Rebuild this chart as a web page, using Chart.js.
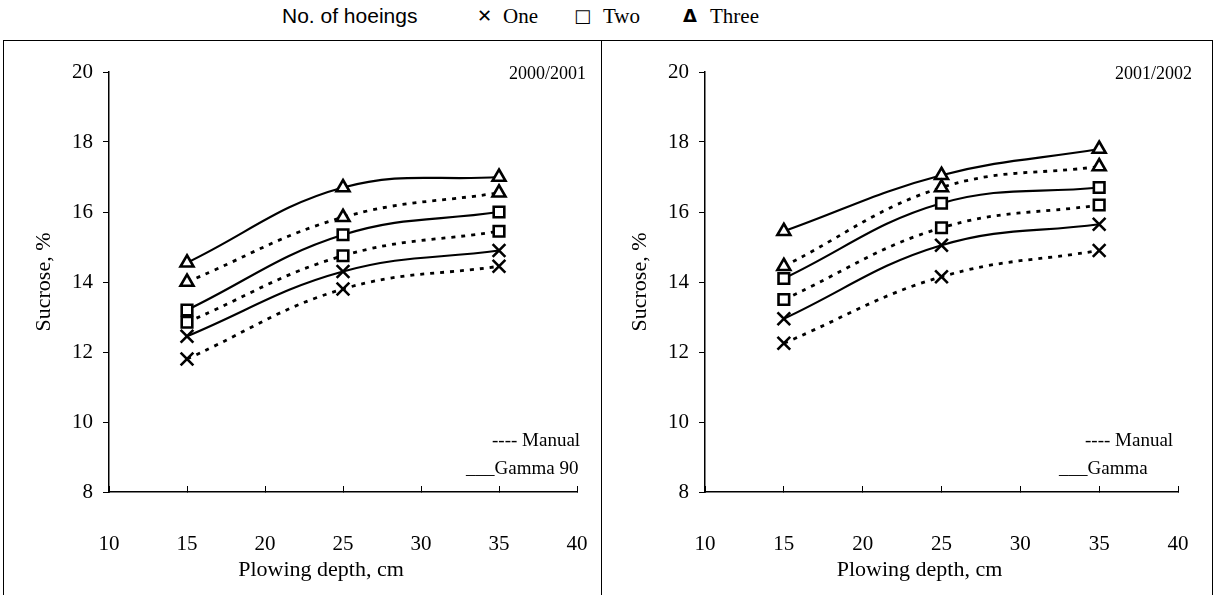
<!DOCTYPE html>
<html>
<head>
<meta charset="utf-8">
<script src="https://cdn.jsdelivr.net/npm/chart.js@4.4.1/dist/chart.umd.min.js"></script>
<style>
	body { margin: 0; width: 1215px; height: 595px; background: #fff; position: relative; overflow: hidden; font-family: 'Liberation Serif', serif; }
	.box { position: absolute; border: 1px solid #000; border-bottom: none; box-sizing: border-box; pointer-events: none; }
	#leftBox { left: 3px; top: 40px; width: 599px; height: 555px; }
	#rightBox { left: 601px; top: 40px; width: 612px; height: 555px; }
	.holder { position: absolute; top: 40px; height: 555px; }
	#leftHolder { left: 3px; width: 598px; }
	#rightHolder { left: 601px; width: 612px; }
	#legend { position: absolute; top: 2px; left: 0; width: 1215px; height: 32px; font-size: 21px; }
	#legend span { position: absolute; top: 2px; white-space: nowrap; }
	.sans { font-family: 'Liberation Sans', Arial, sans-serif; font-size: 21px; }
	.mark { font-family: 'DejaVu Sans', sans-serif; font-weight: bold; font-size: 18px; top: 3px !important; }
</style>
</head>
<body>
<div id="legend">
	<span class="sans" style="left:282px">No. of hoeings</span>
	<span class="mark" style="left:477px">&#x2715;</span>
	<span style="left:503px">One</span>
	<span class="mark" style="left:574px">&#x25A1;</span>
	<span style="left:603px">Two</span>
	<span class="mark" style="left:683px">&#x0394;</span>
	<span style="left:710px">Three</span>
</div>
<div class="holder" id="leftHolder"><canvas id="leftChart" width="598" height="555"></canvas></div>
<div class="holder" id="rightHolder"><canvas id="rightChart" width="612" height="555"></canvas></div>
<div class="box" id="leftBox"></div>
<div class="box" id="rightBox"></div>
<script>
// plowing depth, cm
var depths = [15, 25, 35];
var xTicks = [10, 15, 20, 25, 30, 35, 40];
var yTicks = [8, 10, 12, 14, 16, 18, 20];
var hoeings = ['One', 'Two', 'Three'];

// sucrose %, season 2000/2001
var oneManual1 = [11.8, 13.8, 14.45];
var oneGamma1 = [12.45, 14.3, 14.9];
var twoManual1 = [12.85, 14.75, 15.45];
var twoGamma1 = [13.2, 15.35, 16.0];
var threeManual1 = [14.0, 15.85, 16.55];
var threeGamma1 = [14.55, 16.7, 17.0];

// sucrose %, season 2001/2002
var oneManual2 = [12.25, 14.15, 14.9];
var oneGamma2 = [12.95, 15.05, 15.65];
var twoManual2 = [13.5, 15.55, 16.2];
var twoGamma2 = [14.1, 16.25, 16.7];
var threeManual2 = [14.45, 16.7, 17.3];
var threeGamma2 = [15.45, 17.05, 17.8];

var markers = { One: 'crossRot', Two: 'rect', Three: 'triangle' };
var serif = "'Liberation Serif', 'Times New Roman', serif";

function toPoints(values) {
	return depths.map(function(d, i) {
		return { x: d, y: values[i] };
	});
}

function makeDataset(name, values, dotted) {
	return {
		label: name + (dotted ? ' manual' : ' gamma'),
		data: toPoints(values),
		showLine: true,
		tension: 0.4,
		borderColor: '#000',
		backgroundColor: 'rgba(0,0,0,0)',
		borderWidth: dotted ? 2.8 : 2.2,
		borderDash: dotted ? [4, 6] : [],
		pointStyle: markers[name],
		pointRadius: name === 'One' ? 9 : 7.5,
		pointBorderWidth: 2.6,
		pointBorderColor: '#000',
		pointBackgroundColor: '#fff'
	};
}

// draws season name, x axis title and the line-type key
var panelText = {
	id: 'panelText',
	afterDraw: function(chart) {
		var o = chart.options.plugins.panelText;
		var area = chart.chartArea;
		var ctx = chart.ctx;
		ctx.save();
		ctx.fillStyle = '#000';
		ctx.textBaseline = 'middle';
		ctx.font = '18px ' + serif;
		ctx.textAlign = 'right';
		ctx.fillText(o.season, o.seasonX, o.seasonY);
		ctx.font = '22px ' + serif;
		ctx.textAlign = 'center';
		ctx.fillText('Plowing depth, cm', (area.left + area.right) / 2 - 22, 530);
		ctx.font = '19px ' + serif;
		ctx.textAlign = 'left';
		ctx.fillText('---- Manual', o.keyX, o.keyY);
		ctx.fillText('___' + o.gammaName, o.keyX2, o.keyY + 28);
		ctx.restore();
	}
};

function GetSucroseChart(canvasId, sets, text, yWidth, padRight, yTitlePad) {
	var datasets = [];
	hoeings.forEach(function(name, i) {
		datasets.push(makeDataset(name, sets[i][0], true));
		datasets.push(makeDataset(name, sets[i][1], false));
	});
	var ctx = document.getElementById(canvasId).getContext('2d');
	return new Chart(ctx, {
		type: 'scatter',
		data: { datasets: datasets },
		plugins: [panelText],
		options: {
			responsive: false,
			animation: false,
			layout: { padding: { top: 32, right: padRight, bottom: 0, left: 0 } },
			plugins: {
				legend: { display: false },
				tooltip: { enabled: false },
				panelText: text
			},
			scales: {
				x: {
					type: 'linear',
					min: xTicks[0],
					max: xTicks[xTicks.length - 1],
					afterBuildTicks: function(s) {
						s.ticks = xTicks.map(function(v) { return { value: v }; });
					},
					afterFit: function(s) {
						s.height = 103;
						s.paddingLeft = 0;
						s.paddingRight = 0;
					},
					grid: { drawOnChartArea: false, drawTicks: true, tickLength: -6, color: '#000' },
					border: { display: true, color: '#000', width: 1.5 },
					ticks: { color: '#000', padding: 46, font: { family: serif, size: 21 } },
					title: { display: false }
				},
				y: {
					min: yTicks[0],
					max: yTicks[yTicks.length - 1],
					afterBuildTicks: function(s) {
						s.ticks = yTicks.map(function(v) { return { value: v }; });
					},
					afterFit: function(s) { s.width = yWidth; },
					grid: { drawOnChartArea: false, drawTicks: true, tickLength: 6, color: '#000' },
					border: { display: true, color: '#000', width: 1.5 },
					ticks: { color: '#000', padding: 10, font: { family: serif, size: 21 } },
					title: { display: true, text: 'Sucrose, %', color: '#000', padding: { top: yTitlePad, bottom: 0 }, font: { family: serif, size: 22 } }
				}
			}
		}
	});
}

GetSucroseChart('leftChart', [
	[oneManual1, oneGamma1],
	[twoManual1, twoGamma1],
	[threeManual1, threeGamma1]
], { season: '2000/2001', seasonX: 583, seasonY: 34, gammaName: 'Gamma 90', keyX: 489, keyX2: 463, keyY: 401 }, 106, 24, 28);

GetSucroseChart('rightChart', [
	[oneManual2, oneGamma2],
	[twoManual2, twoGamma2],
	[threeManual2, threeGamma2]
], { season: '2001/2002', seasonX: 591, seasonY: 34, gammaName: 'Gamma', keyX: 484, keyX2: 458, keyY: 401 }, 104, 35, 26);
</script>
</body>
</html>
